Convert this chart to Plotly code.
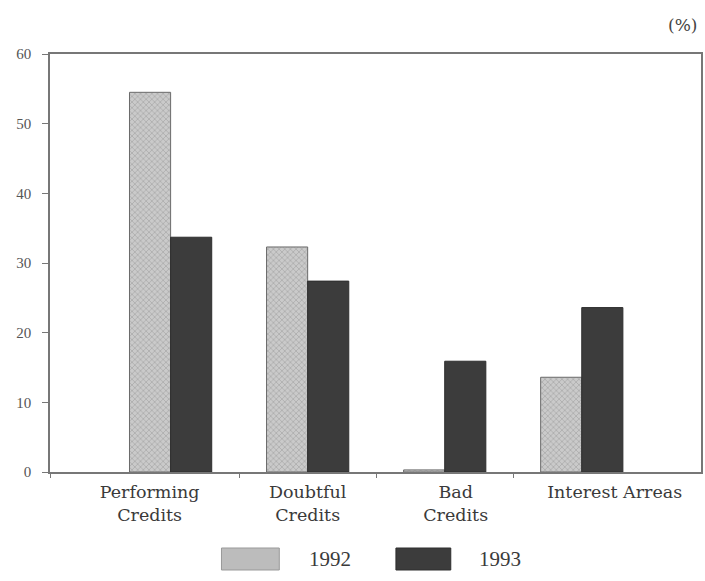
import plotly.graph_objects as go

categories = ["Performing<br>Credits", "Doubtful<br>Credits", "Bad<br>Credits", "Interest Arreas"]
values_1992 = [54.5, 32.3, 0.3, 13.6]
values_1993 = [33.7, 27.4, 15.9, 23.6]
series_names = ["1992", "1993"]
y_ticks = [0, 10, 20, 30, 40, 50, 60]

xpos = list(range(len(categories)))
# style: horizontal placement of the category labels (slightly off-centre in the original)
label_pos = [-0.153, 1.0, 2.08, 3.24]
serif = "Liberation Serif"
wide_serif = "DejaVu Serif"

fig = go.Figure()
fig.add_trace(go.Bar(
    x=xpos, y=values_1992, name=series_names[0], width=0.3, offset=-0.3,
    marker=dict(color="#bcbcbc", line=dict(color="#6a6a6a", width=1),
                pattern=dict(shape="x", fgcolor="#808080", bgcolor="#cacaca", size=4, solidity=0.3)),
    showlegend=False,
))
fig.add_trace(go.Bar(
    x=xpos, y=values_1993, name=series_names[1], width=0.3, offset=0,
    marker=dict(color="#3c3c3c", line=dict(color="#2e2e2e", width=1)),
    showlegend=False,
))

PW, PH = 653, 418  # plot area size in px

fig.update_layout(
    width=705, height=581,
    margin=dict(l=50, r=2, t=54, b=109),
    paper_bgcolor="white", plot_bgcolor="white",
    font=dict(family=serif, color="#333333"),
    xaxis=dict(
        tickmode="array", tickvals=label_pos, ticktext=categories,
        range=[-0.88, 3.87], showgrid=False, zeroline=False,
        showline=True, linecolor="#777777", linewidth=1.5, mirror=True,
        ticks="", ticklabelstandoff=3,
        tickfont=dict(size=17.5, color="#3a3a3a", family=wide_serif),
    ),
    xaxis2=dict(
        overlaying="x", matches="x", tickmode="array", tickvals=[-0.88, 0.5, 1.5, 2.5],
        showticklabels=False, ticks="outside", ticklen=5, tickcolor="#777777",
        showgrid=False, zeroline=False, side="bottom", anchor="y",
    ),
    yaxis=dict(
        range=[0, 60], tickmode="array", tickvals=y_ticks,
        showgrid=False, zeroline=False,
        showline=True, linecolor="#777777", linewidth=1.5, mirror=True,
        ticks="outside", ticklen=6, tickcolor="#777777", ticklabelstandoff=8,
        tickfont=dict(size=15, color="#555555", family=serif),
    ),
    shapes=[
        dict(type="rect", xref="paper", yref="paper", x0=(222-50)/PW, x1=(280-50)/PW,
             y0=-(570-472)/PH, y1=-(548-472)/PH, fillcolor="#bcbcbc",
             line=dict(color="#999999", width=1)),
        dict(type="rect", xref="paper", yref="paper", x0=(397-50)/PW, x1=(452-50)/PW,
             y0=-(570-472)/PH, y1=-(548-472)/PH, fillcolor="#3c3c3c",
             line=dict(color="#2e2e2e", width=1)),
    ],
    annotations=[
        dict(text=series_names[0], xref="paper", yref="paper", x=(308-50)/PW, y=-(559-472)/PH,
             xanchor="left", yanchor="middle", showarrow=False,
             font=dict(size=21, color="#3a3a3a", family=serif)),
        dict(text=series_names[1], xref="paper", yref="paper", x=(478-50)/PW, y=-(559-472)/PH,
             xanchor="left", yanchor="middle", showarrow=False,
             font=dict(size=21, color="#3a3a3a", family=serif)),
        dict(text="(%)", xref="paper", yref="paper", x=1.0, y=1.0 + 29/PH, xshift=-2,
             xanchor="right", yanchor="middle", showarrow=False,
             font=dict(size=17, color="#444444", family=wide_serif)),
    ],
)

# invisible helper trace to activate xaxis2 for category boundary ticks
fig.add_trace(go.Scatter(x=[0], y=[0], xaxis="x2", mode="markers",
                         marker=dict(opacity=0), showlegend=False, hoverinfo="skip"))

fig.write_html(
    "out.html",
    config={"displayModeBar": False},
    post_script="document.body.style.margin='0';document.body.style.overflow='hidden';"
                "document.documentElement.style.overflow='hidden';",
)
